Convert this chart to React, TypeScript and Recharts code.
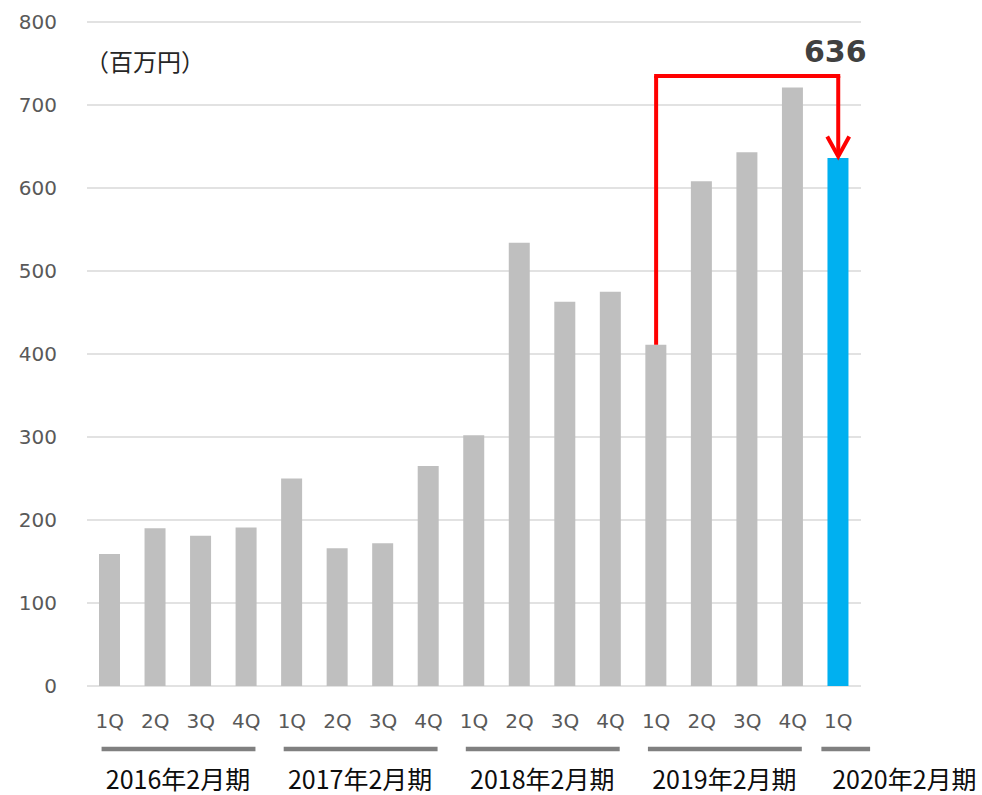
import React from 'react';
import { BarChart, Bar, XAxis, YAxis, CartesianGrid, ReferenceLine, ReferenceDot, Cell } from 'recharts';

const quarters = ['1Q', '2Q', '3Q', '4Q', '1Q', '2Q', '3Q', '4Q', '1Q', '2Q', '3Q', '4Q', '1Q', '2Q', '3Q', '4Q', '1Q'];
const values = [159, 190, 181, 191, 250, 166, 172, 265, 302, 534, 463, 475, 411, 608, 643, 721, 636];
const groupLabels = ['2016年2月期', '2017年2月期', '2018年2月期', '2019年2月期', '2020年2月期'];
const groupSizes = [4, 4, 4, 4, 1];
const yTicks = [0, 100, 200, 300, 400, 500, 600, 700, 800];
const unitLabel = '（百万円）';

const W = 982;
const H = 795;
const M_RIGHT = 121;
const Y_W = 87;
const GRAY = '#bfbfbf';
const BLUE = '#00b0f0';
const RED = '#ff0000';
const GRID = '#d9d9d9';
const TICK = '#595959';
const FONT = '"DejaVu Sans", "Noto Sans CJK JP", sans-serif';
const CJK = '"Noto Sans CJK JP", "DejaVu Sans", sans-serif';

const data = values.map((v, i) => ({ key: `k${i}`, q: quarters[i], value: v }));

const groupStartAt: Record<number, { label: string; size: number }> = (() => {
  const out: Record<number, { label: string; size: number }> = {};
  let s = 0;
  groupLabels.forEach((label, g) => {
    out[s] = { label, size: groupSizes[g] };
    s += groupSizes[g];
  });
  return out;
})();

const lastIdx = values.length - 1;
const fromIdx = lastIdx - 4;
const ARROW_TOP = 735;

const QuarterTick = (props: any) => {
  const { x, y, index, payload } = props;
  const w = payload && payload.offset ? payload.offset * 2 : (W - M_RIGHT - Y_W) / values.length;
  const left = x - w / 2;
  const g = groupStartAt[index];
  let extra = null;
  if (g) {
    const partial = g.size < 4;
    const x1 = left + (partial ? 0.13 : 0.32) * w;
    const x2 = partial ? left + (g.size + 0.2) * w : left + (g.size - 0.3) * w;
    const cx = left + (g.size / 2) * w;
    extra = (
      <g>
        <line x1={x1} x2={x2} y1={y + 63} y2={y + 63} stroke="#808080" strokeWidth={4.5} />
        <text
          x={partial ? x - 6 : cx}
          y={y + 103}
          textAnchor={partial ? 'start' : 'middle'}
          fill="#0d0d0d"
          fontSize={25}
          fontFamily={CJK}
        >
          {g.label}
        </text>
      </g>
    );
  }
  return (
    <g>
      <text x={x} y={y + 42} textAnchor="middle" fill={TICK} fontSize={20} fontFamily={FONT}>
        {quarters[index]}
      </text>
      {extra}
    </g>
  );
};

const ArrowHead = (props: any) => {
  const { cx, cy } = props;
  return (
    <path
      d={`M${cx - 11},${cy - 20} L${cx},${cy} L${cx + 11},${cy - 20}`}
      fill="none"
      stroke={RED}
      strokeWidth={4}
      strokeLinejoin="miter"
    />
  );
};

export default function App() {
  return (
    <div style={{ position: 'absolute', left: 0, top: 0, width: W, height: H, background: '#fff' }}>
      <div
        style={{
          position: 'absolute',
          left: 85,
          top: 49,
          fontSize: 24,
          lineHeight: '24px',
          fontFamily: CJK,
          color: '#262626',
          whiteSpace: 'nowrap',
        }}
      >
        {unitLabel}
      </div>
      <BarChart width={W} height={H} data={data} margin={{ top: 22, right: M_RIGHT, bottom: 0, left: 0 }}>
        <CartesianGrid vertical={false} stroke={GRID} strokeWidth={1.5} />
        <XAxis
          dataKey="key"
          axisLine={false}
          tickLine={false}
          tickSize={0}
          tickMargin={0}
          height={109}
          interval={0}
          tick={<QuarterTick />}
        />
        <YAxis
          domain={[0, 800]}
          ticks={yTicks}
          axisLine={false}
          tickLine={false}
          tickSize={0}
          tickMargin={30}
          width={Y_W}
          interval={0}
          tick={{ fill: TICK, fontSize: 20, fontFamily: FONT }}
        />
        <Bar dataKey="value" barSize={21} isAnimationActive={false}>
          {data.map((d, i) => (
            <Cell key={d.key} fill={i === lastIdx ? BLUE : GRAY} />
          ))}
        </Bar>
        <ReferenceLine
          ifOverflow="visible"
          segment={[
            { x: data[fromIdx].key, y: values[fromIdx] },
            { x: data[fromIdx].key, y: ARROW_TOP },
          ]}
          stroke={RED}
          strokeWidth={4}
        />
        <ReferenceLine
          ifOverflow="visible"
          segment={[
            { x: data[fromIdx].key, y: ARROW_TOP },
            { x: data[lastIdx].key, y: ARROW_TOP },
          ]}
          stroke={RED}
          strokeWidth={4}
          strokeLinecap="square"
        />
        <ReferenceLine
          ifOverflow="visible"
          segment={[
            { x: data[lastIdx].key, y: ARROW_TOP },
            { x: data[lastIdx].key, y: values[lastIdx] + 3 },
          ]}
          stroke={RED}
          strokeWidth={4}
        />
        <ReferenceDot
          x={data[lastIdx].key}
          y={values[lastIdx] + 2}
          r={0}
          ifOverflow="visible"
          shape={(p: any) => <ArrowHead {...p} />}
        />
        <ReferenceDot
          x={data[lastIdx].key}
          y={765}
          r={0}
          ifOverflow="visible"
          fill="none"
          stroke="none"
          label={{
            value: String(values[lastIdx]),
            position: 'center',
            fill: '#404040',
            fontSize: 30,
            fontWeight: 'bold',
            fontFamily: FONT,
            dx: -3,
          }}
        />
      </BarChart>
    </div>
  );
}
